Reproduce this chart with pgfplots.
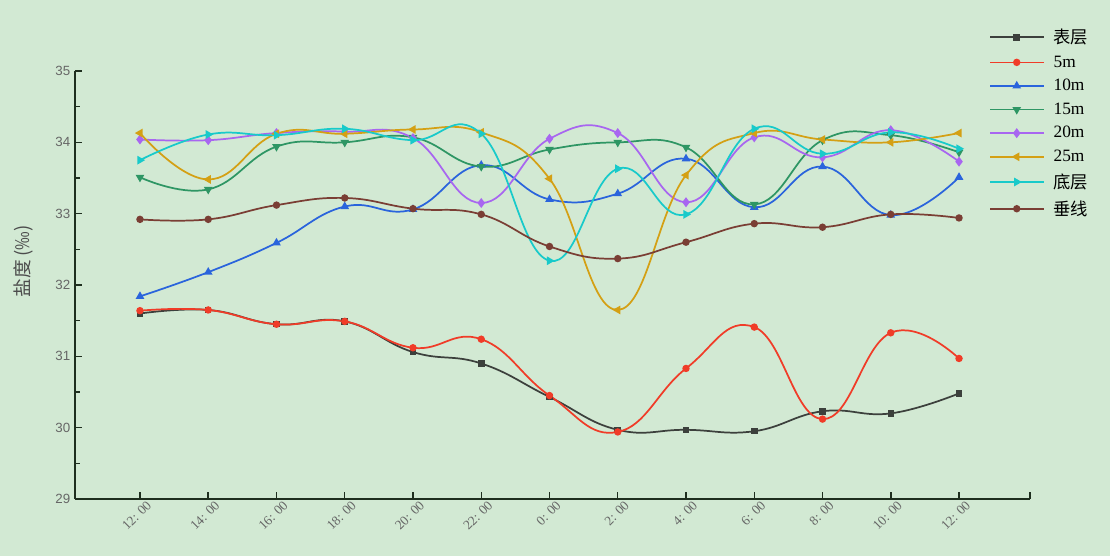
\documentclass[border=0pt]{standalone}
\usepackage{fontspec}
\setmainfont{Liberation Serif}
\newfontfamily\cjk{Noto Sans CJK SC}
\newfontfamily\tsans{Liberation Sans}
\usepackage{pgfplots}
\pgfplotsset{compat=1.18}
\definecolor{bg}{HTML}{D2E9D3}
\definecolor{cA}{HTML}{3C403C}
\definecolor{cB}{HTML}{F03C28}
\definecolor{cC}{HTML}{2A64DC}
\definecolor{cD}{HTML}{2E9664}
\definecolor{cE}{HTML}{A866F0}
\definecolor{cF}{HTML}{D4A014}
\definecolor{cG}{HTML}{18CACA}
\definecolor{cH}{HTML}{7A3E34}
\definecolor{axc}{HTML}{1E2E1E}
\begin{document}
\begin{tikzpicture}[x=1pt,y=1pt]
\fill[bg] (0,0) rectangle (832.5,417);
\begin{axis}[
  at={(56.25pt,42.75pt)}, anchor=south west,
  scale only axis, width=716.25pt, height=321pt,
  xmin=-0.952, xmax=13.04, ymin=29, ymax=35,
  axis lines*=left,
  axis line style={axc, line width=1.3pt, -},
  every tick/.style={axc, line width=1.1pt},
  tick align=inside, major tick length=5pt, minor tick length=3.5pt,
  xtick={0,...,12},
  xticklabels={12: 00,14: 00,16: 00,18: 00,20: 00,22: 00,0: 00,2: 00,4: 00,6: 00,8: 00,10: 00,12: 00},
  extra x ticks={13.04}, extra x tick labels={},
  ytick={29,...,35}, minor y tick num=1,
  xticklabel style={rotate=45, anchor=east, font=\fontsize{10}{11}\selectfont, text=black!60, xshift=6pt, yshift=-7pt},
  yticklabel style={font=\tsans\fontsize{10}{12}\selectfont, text=black!60},
  /pgf/number format/assume math mode=true,
  ylabel={{\cjk 盐度}\,(‰)},
  ylabel style={font=\cjk\fontsize{14}{16}\selectfont, text=black!70},
  ylabel style={at={(axis description cs:-0.054,0.555)}, anchor=center},
  every axis plot/.append style={line width=1.3pt, smooth, tension=0.75, mark size=2.1pt},
  legend style={at={(axis description cs:0.957,1.105)}, anchor=north west, draw=none, fill=none,
    font=\fontsize{13}{15}\selectfont, row sep=3.6pt, inner sep=0pt,
    /tikz/every odd column/.append style={column sep=5pt}},
  legend cell align=left,
  legend image code/.code={\draw[line width=1.3pt, mark repeat=2,mark phase=2] plot coordinates {(0pt,0pt) (20pt,0pt) (40pt,0pt)};},
]
\addplot[cA, line width=1.3pt, mark=square*, mark size=1.8pt] coordinates {(0,31.60)(1,31.65)(2,31.45)(3,31.49)(4,31.06)(5,30.90)(6,30.43)(7,29.97)(8,29.97)(9,29.95)(10,30.23)(11,30.20)(12,30.48)};
\addlegendentry{\cjk 表层}
\addplot[cB, line width=1.3pt, mark=*] coordinates {(0,31.64)(1,31.65)(2,31.45)(3,31.49)(4,31.12)(5,31.24)(6,30.45)(7,29.94)(8,30.83)(9,31.41)(10,30.12)(11,31.33)(12,30.97)};
\addlegendentry{5m}
\addplot[cC, line width=1.3pt, mark=triangle*, mark size=2.5pt] coordinates {(0,31.84)(1,32.18)(2,32.59)(3,33.10)(4,33.06)(5,33.68)(6,33.20)(7,33.28)(8,33.77)(9,33.09)(10,33.66)(11,32.98)(12,33.51)};
\addlegendentry{10m}
\addplot[cD, line width=1.3pt, mark=triangle*, mark size=2.5pt, mark options={rotate=180}] coordinates {(0,33.51)(1,33.34)(2,33.94)(3,34.00)(4,34.07)(5,33.66)(6,33.90)(7,34.00)(8,33.93)(9,33.13)(10,34.03)(11,34.10)(12,33.86)};
\addlegendentry{15m}
\addplot[cE, line width=1.3pt, mark=diamond*, mark size=2.7pt] coordinates {(0,34.04)(1,34.03)(2,34.13)(3,34.15)(4,34.06)(5,33.15)(6,34.05)(7,34.13)(8,33.16)(9,34.07)(10,33.79)(11,34.17)(12,33.73)};
\addlegendentry{20m}
\addplot[cF, line width=1.3pt, mark=triangle*, mark size=2.5pt, mark options={rotate=90}] coordinates {(0,34.13)(1,33.48)(2,34.12)(3,34.12)(4,34.18)(5,34.14)(6,33.49)(7,31.65)(8,33.54)(9,34.13)(10,34.04)(11,34.00)(12,34.13)};
\addlegendentry{25m}
\addplot[cG, line width=1.3pt, mark=triangle*, mark size=2.5pt, mark options={rotate=-90}] coordinates {(0,33.75)(1,34.11)(2,34.10)(3,34.19)(4,34.03)(5,34.12)(6,32.34)(7,33.63)(8,32.99)(9,34.19)(10,33.84)(11,34.14)(12,33.91)};
\addlegendentry{\cjk 底层}
\addplot[cH, line width=1.3pt, mark=*] coordinates {(0,32.92)(1,32.92)(2,33.12)(3,33.22)(4,33.07)(5,32.99)(6,32.54)(7,32.37)(8,32.60)(9,32.86)(10,32.81)(11,32.99)(12,32.94)};
\addlegendentry{\cjk 垂线}
\end{axis}
\end{tikzpicture}
\end{document}
